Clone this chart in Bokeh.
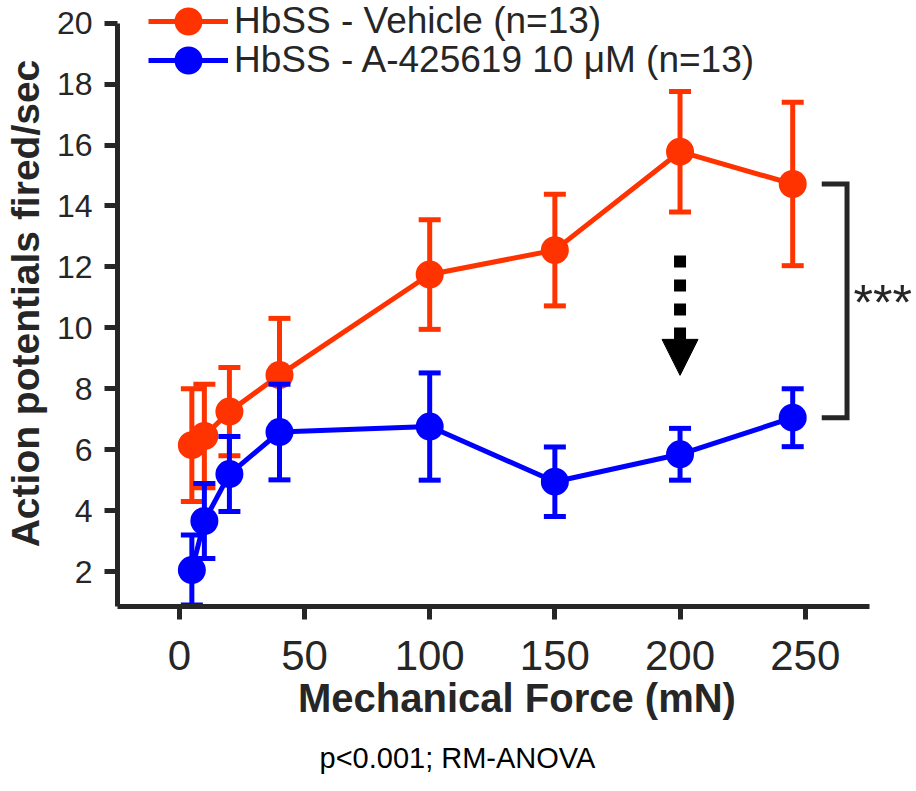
from bokeh.plotting import figure
from bokeh.models import (Range1d, FixedTicker, Label, Arrow, NormalHead, Legend,
                          LegendItem, Title)
from bokeh.embed import file_html
from bokeh.resources import INLINE

# ---- data ----
force = [5, 10, 20, 40, 100, 150, 200, 245]
vehicle_mean = [6.15, 6.45, 7.25, 8.45, 11.75, 12.55, 15.78, 14.72]
vehicle_sem = [1.85, 1.70, 1.45, 1.86, 1.80, 1.83, 1.98, 2.68]
drug_mean = [2.05, 3.66, 5.20, 6.58, 6.76, 4.95, 5.85, 7.05]
drug_sem = [1.15, 1.23, 1.23, 1.57, 1.76, 1.14, 0.85, 0.95]
x_ticks = [0, 50, 100, 150, 200, 250]
y_ticks = [2, 4, 6, 8, 10, 12, 14, 16, 18, 20]
label_vehicle = "HbSS - Vehicle (n=13)"
label_drug = "HbSS - A-425619 10 \u03bcM (n=13)"
note = "p<0.001; RM-ANOVA"

RED = "#FF3300"
BLUE = "#0000FF"
AXC = "#262626"
FONT = "Liberation Sans"

X_AX = (-24.7, 275.7)
Y_AX = (0.854, 20.0)

p = figure(width=916, height=791, output_backend="svg", toolbar_location=None,
           x_range=Range1d(-24.7, 294.45), y_range=Range1d(0.854, 20.743),
           min_border_left=116, min_border_right=0, min_border_top=0, min_border_bottom=183)
p.outline_line_color = None
p.grid.visible = False
p.background_fill_color = "white"

def series(mean, sem, color):
    lo = [m - s for m, s in zip(mean, sem)]
    hi = [m + s for m, s in zip(mean, sem)]
    p.segment(x0=force, y0=lo, x1=force, y1=hi, line_color=color, line_width=5)
    p.scatter(x=force, y=hi, marker="dash", size=22, line_color=color, line_width=5)
    p.scatter(x=force, y=lo, marker="dash", size=22, line_color=color, line_width=5)
    lr = p.line(force, mean, line_color=color, line_width=5, line_join="round")
    sr = p.scatter(force, mean, marker="circle", size=28, fill_color=color, line_color=color,
                   line_width=0)
    return [lr, sr]

r_vehicle = series(vehicle_mean, vehicle_sem, RED)
r_drug = series(drug_mean, drug_sem, BLUE)

# bracket with significance
bx_arm, bx = 256.6, 266.7
p.line([bx_arm, bx, bx, bx_arm], [vehicle_mean[-1], vehicle_mean[-1], drug_mean[-1], drug_mean[-1]],
       line_color=AXC, line_width=5, line_join="miter")
p.add_layout(Label(x=269.3, y=10.83, text="***", text_font=FONT, text_font_size="50px",
                   text_color=AXC, text_baseline="alphabetic", text_align="left"))

# dotted arrow
p.add_layout(Arrow(end=NormalHead(size=36, fill_color="black", line_color="black", line_width=1),
                   x_start=200, y_start=12.37, x_end=200, y_end=8.44,
                   line_width=12, line_dash="12 12", line_color="black", line_cap="butt"))

# axes
for ax in (p.xaxis[0], p.yaxis[0]):
    ax.axis_line_width = 5
    ax.axis_line_color = AXC
    ax.major_tick_line_width = 5
    ax.major_tick_line_color = AXC
    ax.major_tick_out = 13
    ax.major_tick_in = 0
    ax.minor_tick_line_color = None
    ax.major_label_text_font = FONT
    ax.major_label_text_color = AXC
    ax.axis_label_text_font = FONT
    ax.axis_label_text_font_style = "bold"
    ax.axis_label_text_color = AXC

p.xaxis.bounds = X_AX
p.yaxis.bounds = Y_AX
p.xaxis.ticker = FixedTicker(ticks=x_ticks)
p.yaxis.ticker = FixedTicker(ticks=y_ticks)
p.xaxis.major_label_text_font_size = "42px"
p.yaxis.major_label_text_font_size = "32px"
p.xaxis.major_label_standoff = 21
p.yaxis.major_label_standoff = 12
p.xaxis.axis_label = "Mechanical Force (mN)"
p.yaxis.axis_label = "Action potentials fired/sec"
p.xaxis.axis_label_text_font_size = "40px"
p.yaxis.axis_label_text_font_size = "39px"
p.xaxis.axis_label_standoff = 3
p.yaxis.axis_label_standoff = 7

# p-value note under the axis title
p.add_layout(Title(text=note, align="left", offset=202, text_font=FONT, text_font_size="29px",
                   text_font_style="normal", text_color="black", standoff=35), "below")

# legends (one row each)
def add_legend(label, renderers, vy):
    lg = Legend(items=[LegendItem(label=label, renderers=renderers)], location=(31, vy),
                glyph_width=80, glyph_height=70, label_height=70, padding=0, margin=0,
                spacing=0, label_standoff=6, label_text_font=FONT, label_text_font_size="37px",
                label_text_color=AXC, border_line_alpha=0, background_fill_alpha=0)
    p.add_layout(lg, "center")

add_legend(label_vehicle, r_vehicle, 550)
add_legend(label_drug, r_drug, 511)

open("out.html", "w").write(file_html(p, INLINE))
